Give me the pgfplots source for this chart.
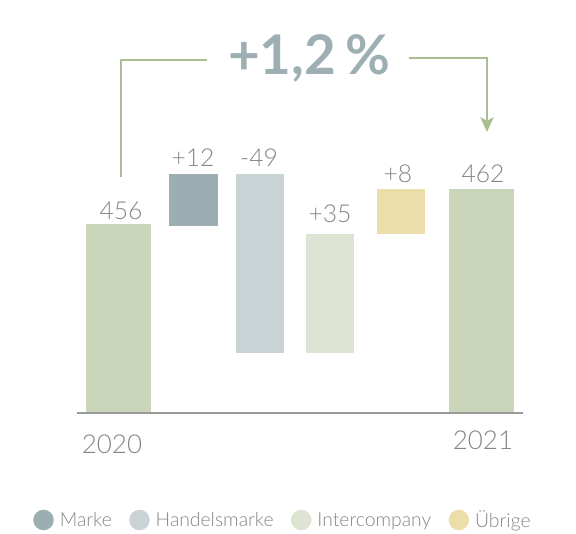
\documentclass[border=0pt]{standalone}
\usepackage{pgfplots}
\pgfplotsset{compat=1.18}
\usetikzlibrary{arrows.meta}
\usepackage{fontspec}
\setmainfont{Lato Light}
\newfontfamily\latobold{Lato Bold}
\definecolor{sage}{HTML}{CAD5BA}
\definecolor{marke}{HTML}{9DAEB2}
\definecolor{handel}{HTML}{C9D3D6}
\definecolor{interc}{HTML}{DDE4D4}
\definecolor{uebrige}{HTML}{EBDEAB}
\definecolor{linegreen}{HTML}{A9BF92}
\definecolor{pctcol}{HTML}{9DAFB3}
\definecolor{textgray}{HTML}{858585}
\definecolor{basegray}{HTML}{9A9A9A}
\tikzset{lab/.style={text=textgray, font=\fontsize{18.5}{22}\selectfont, anchor=base, inner sep=0pt}}
\begin{document}
\begin{tikzpicture}
\begin{axis}[
  x=0.75pt, y=0.75pt,
  xmin=77, xmax=523, ymin=0, ymax=393,
  axis lines=none,
  clip=false,
  legend columns=4,
  legend cell align=left,
  legend style={draw=none, fill=none, at={(axis cs:33,-107)}, anchor=west,
    inner sep=0pt, font=\fontsize{14.5}{17}\selectfont, text=textgray,
    nodes={inner sep=0pt},
    /tikz/every odd column/.append style={column sep=4.5pt},
    /tikz/every even column/.append style={column sep=13pt}},
  legend image code/.code={\fill[#1] (7.5pt,0pt) circle (7.7pt);},
]
% 2020 bar
\addplot[fill=sage, draw=none, forget plot] coordinates {(86,0) (151,0) (151,189) (86,189)} -- cycle;
% Marke
\addplot[fill=marke, draw=none] coordinates {(169,187) (218,187) (218,239) (169,239)} -- cycle;
\addlegendentry{\strut Marke}
% Handelsmarke
\addplot[fill=handel, draw=none] coordinates {(236,60) (284,60) (284,239) (236,239)} -- cycle;
\addlegendentry{\strut Handelsmarke}
% Intercompany
\addplot[fill=interc, draw=none] coordinates {(306,60) (354,60) (354,179) (306,179)} -- cycle;
\addlegendentry{\strut Intercompany}
% Uebrige
\addplot[fill=uebrige, draw=none] coordinates {(377,179) (425,179) (425,224) (377,224)} -- cycle;
\addlegendentry{\strut Übrige}
% 2021 bar
\addplot[fill=sage, draw=none, forget plot] coordinates {(449,0) (514,0) (514,224) (449,224)} -- cycle;

% baseline
\draw[basegray, line width=0.9pt] (axis cs:77,0) -- (axis cs:523,0);

% value labels
\node[lab] at (axis cs:121,193) {456};
\node[lab] at (axis cs:193,246) {+12};
\node[lab] at (axis cs:259,246) {-49};
\node[lab] at (axis cs:330,190) {+35};
\node[lab] at (axis cs:398,230) {+8};
\node[lab] at (axis cs:483,230) {462};

% years
\node[text=textgray, font=\fontsize{19.5}{23}\selectfont, anchor=base, inner sep=0pt] at (axis cs:112,-41) {2020};
\node[text=textgray, font=\fontsize{19.5}{23}\selectfont, anchor=base, inner sep=0pt] at (axis cs:483,-37) {2021};

% bracket arrow and percentage
\draw[linegreen, line width=1.5pt] (axis cs:121,236) -- (axis cs:121,353) -- (axis cs:207,353);
\draw[linegreen, line width=1.5pt, -{Stealth[length=11pt, width=10pt, inset=2.5pt]}] (axis cs:409,355) -- (axis cs:487,355) -- (axis cs:487,281);
\node[text=pctcol, font=\latobold\fontsize{41}{48}\selectfont, anchor=base, inner sep=0pt] at (axis cs:309,338) {+1,2\,\%};

% page frame
\path (axis cs:0,-121) rectangle (axis cs:576,413);
\end{axis}
\end{tikzpicture}
\end{document}
